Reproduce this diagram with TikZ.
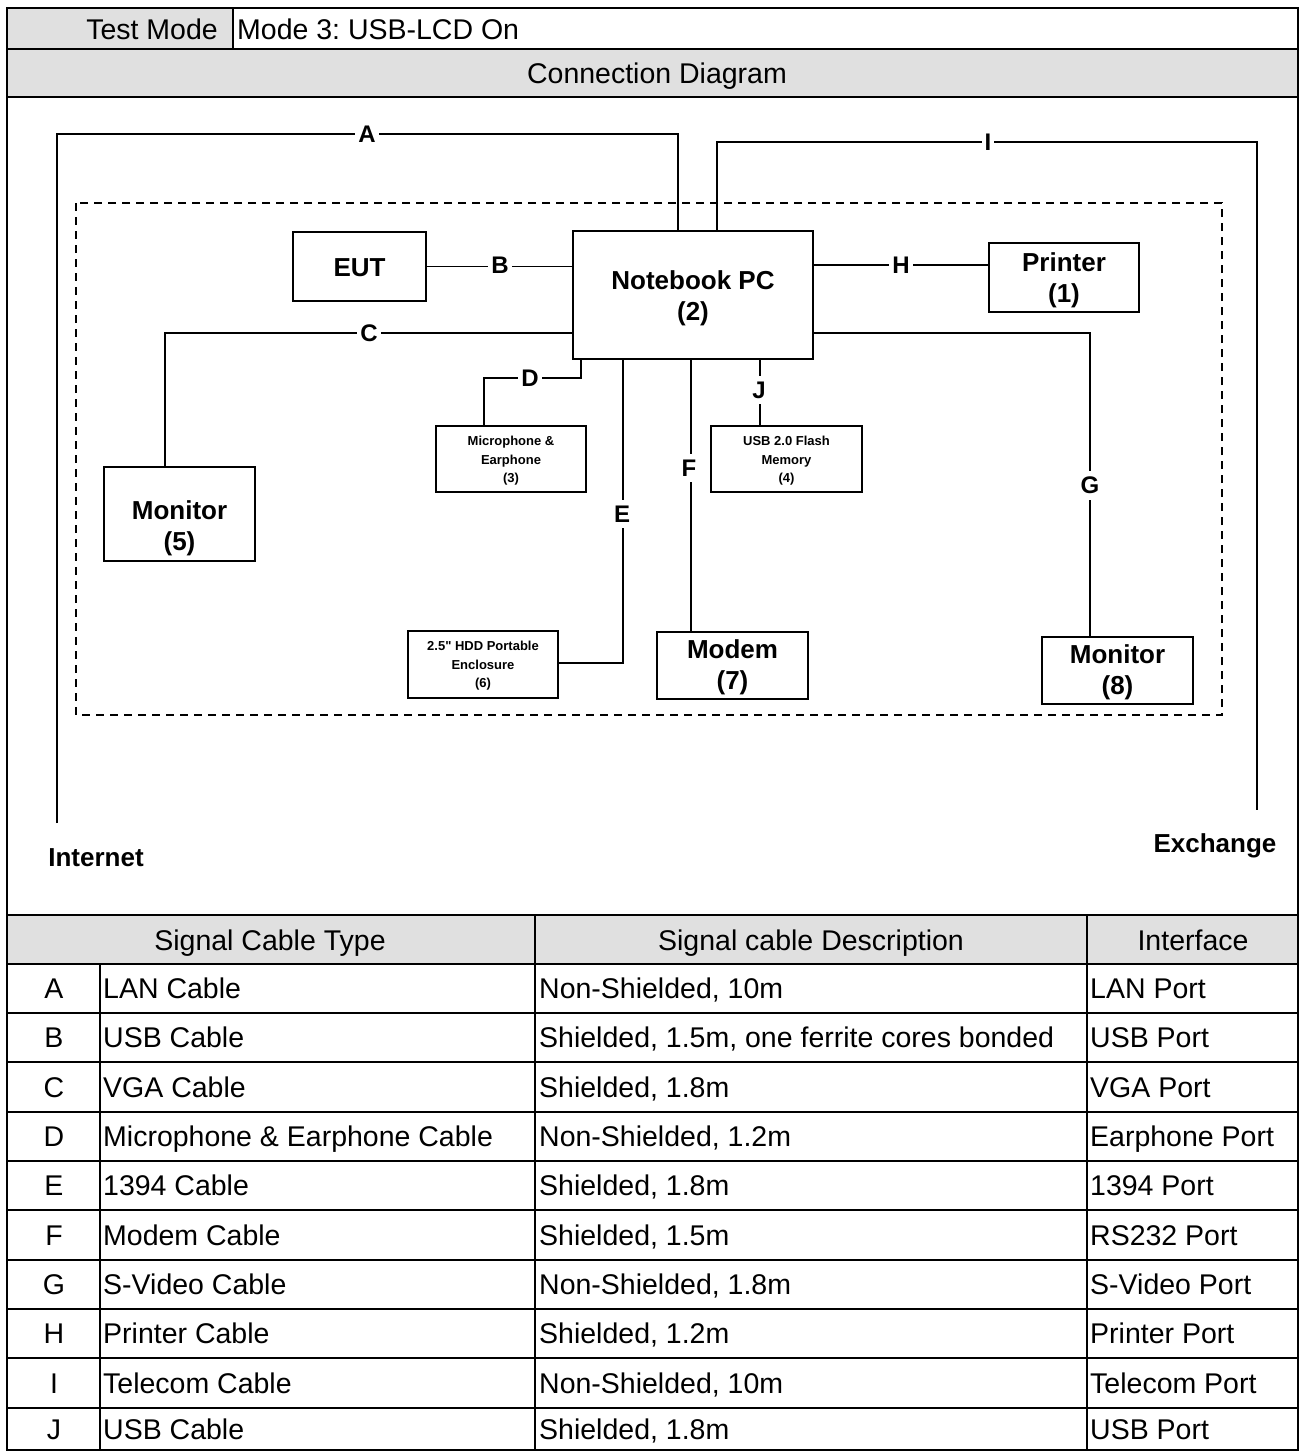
\documentclass[tikz,border=0pt]{standalone}
\usepackage{fontspec}
\setmainfont{Liberation Sans}
\newfontfamily\rawfont{Liberation Sans}
\frenchspacing
\begin{document}
\begin{tikzpicture}[x=1pt,y=-1pt,
  box/.style={draw, line width=2.6pt, fill=white, inner sep=0pt},
  btext/.style={align=center, inner sep=0pt, font=\bfseries\fontsize{26}{31}\selectfont},
  stext/.style={align=center, inner sep=0pt, font=\bfseries\fontsize{13}{18.5}\selectfont},
  cable/.style={line width=1.3pt},
  lab/.style={fill=white, inner sep=3pt, font=\bfseries\fontsize{24}{24}\selectfont},
  far/.style={inner sep=0pt, font=\bfseries\fontsize{26}{26}\selectfont},
  cell/.style={font=\fontsize{28.5}{30}\selectfont, inner sep=0pt, anchor=base west},
  ccell/.style={font=\fontsize{28.5}{30}\selectfont, inner sep=0pt, anchor=base},
  gridline/.style={line width=1.5pt},
  hdr/.style={fill=black!12}
]
\useasboundingbox (0,0) rectangle (1305,1452);
\fill[white] (0,0) rectangle (1305,1452);

% ---------- header rows ----------
\fill[hdr] (7,8) rectangle (233,49);
\fill[hdr] (7,49) rectangle (1298,97);
\fill[hdr] (7,915) rectangle (1298,964);
\node[ccell] (tm) at (152,39) {Test Mode};
\node[cell] (mode) at (237,39) {Mode 3: USB-LCD On};
\node[ccell] (cd) at (657,83) {Connection Diagram};

% ---------- diagram ----------
\draw[line width=1.2pt, dash pattern=on 8pt off 6pt] (76,203) rectangle (1222,715);

\node[box, minimum width=133pt, minimum height=69pt] (eut) at (359.5,266.5) {};
\node[box, minimum width=240pt, minimum height=128pt] (nb) at (693,295) {};
\node[box, minimum width=150pt, minimum height=69pt] (prn) at (1064,277.5) {};
\node[box, minimum width=150pt, minimum height=66pt] (mic) at (511,459) {};
\node[box, minimum width=151pt, minimum height=66pt] (usb) at (786.5,459) {};
\node[box, minimum width=151pt, minimum height=94pt] (mon5) at (179.5,514) {};
\node[box, minimum width=150pt, minimum height=67pt] (hdd) at (483,664.5) {};
\node[box, minimum width=151pt, minimum height=67pt] (modem) at (732.5,665.5) {};
\node[box, minimum width=151pt, minimum height=67pt] (mon8) at (1117.5,670.5) {};

\node[btext] (teut) at ([yshift=-1pt]eut.center) {EUT};
\node[btext] (tnb) at ([yshift=-3.5pt]nb.center) {Notebook PC\\(2)};
\node[btext] (tprn) at ([yshift=-3pt]prn.center) {Printer\\(1)};
\node[stext] (tmic) at ([yshift=-2pt]mic.center) {Microphone \&\\Earphone\\(3)};
\node[stext] (tusb) at ([yshift=-2pt]usb.center) {USB 2.0 Flash\\Memory\\(4)};
\node[btext] (tmon5) at ([yshift=-14pt]mon5.center) {Monitor\\(5)};
\node[stext] (thdd) at ([yshift=-1.5pt]hdd.center) {{\rawfont\bfseries 2.5"} HDD Portable\\Enclosure\\(6)};
\node[btext] (tmodem) at ([yshift=-2pt]modem.center) {Modem\\(7)};
\node[btext] (tmon8) at ([yshift=-2pt]mon8.center) {Monitor\\(8)};

\coordinate (inetend) at (57,823);
\coordinate (exchend) at (1257,810);

\draw[cable] (inetend) -- (57,134) -- (678,134) -- (678,0 |- nb.north);
\draw[cable] (717,0 |- nb.north) -- (717,142) -- (1257,142) -- (exchend);
\draw[cable] (eut.east) -- (nb.west |- eut.east);
\draw[cable] (nb.east |- 0,265) -- (prn.west |- 0,265);
\draw[cable] (nb.west |- 0,333) -- (165,333) -- (mon5.north -| 165,0);
\draw[cable] (nb.east |- 0,333) -- (1090,333) -- (mon8.north -| 1090,0);
\draw[cable] (581,0 |- nb.south) -- (581,378) -- (484,378) -- (mic.north -| 484,0);
\draw[cable] (760,0 |- nb.south) -- (usb.north -| 760,0);
\draw[cable] (623,0 |- nb.south) -- (623,663) -- (hdd.east |- 0,663);
\draw[cable] (691,0 |- nb.south) -- (modem.north -| 691,0);

\node[lab] (la) at (367,134) {A};
\node[lab] (li) at (988,142) {I};
\node[lab] (lb) at (500,265) {B};
\node[lab] (lh) at (901,265) {H};
\node[lab] (lc) at (369,333) {C};
\node[lab] (ld) at (530,378) {D};
\node[lab, inner ysep=6pt] (lj) at (759,390) {J};
\node[lab, inner ysep=6pt] (le) at (622,514) {E};
\node[lab, inner ysep=6pt] (lf) at (689,468) {F};
\node[lab, inner ysep=6pt] (lg) at (1090,485) {G};

\node[far] (inet) at (96,858) {Internet};
\node[far] (exch) at (1215,846) {Exchange};

% ---------- table ----------
\node[ccell] (h1) at (270,950) {Signal Cable Type};
\node[ccell] (h2) at (811,950) {Signal cable Description};
\node[ccell] (h3) at (1193,950) {Interface};

\foreach \yc/\l/\t/\d/\p [count=\i] in {
  988.5/A/LAN Cable/{Non-Shielded, 10m}/LAN Port,
  1037.5/B/USB Cable/{Shielded, 1.5m, one ferrite cores bonded}/USB Port,
  1087/C/VGA Cable/{Shielded, 1.8m}/VGA Port,
  1136.5/D/Microphone \& Earphone Cable/{Non-Shielded, 1.2m}/Earphone Port,
  1185.5/E/1394 Cable/{Shielded, 1.8m}/1394 Port,
  1235/F/Modem Cable/{Shielded, 1.5m}/RS232 Port,
  1284.5/G/S-Video Cable/{Non-Shielded, 1.8m}/S-Video Port,
  1333.5/H/Printer Cable/{Shielded, 1.2m}/Printer Port,
  1383/I/Telecom Cable/{Non-Shielded, 10m}/Telecom Port,
  1429/J/USB Cable/{Shielded, 1.8m}/USB Port} {
  \node[ccell] (r\i a) at (54,\yc+10) {\l};
  \node[cell] (r\i b) at (103,\yc+10) {\t};
  \node[cell] (r\i c) at (539,\yc+10) {\d};
  \node[cell] (r\i d) at (1090,\yc+10) {\p};
}

% grid lines
\draw[gridline] (7,49) -- (1298,49);
\draw[gridline] (7,97) -- (1298,97);
\draw[gridline] (7,915) -- (1298,915);
\draw[gridline] (233,8) -- (233,49);
\foreach \yy in {964,1013,1062,1112,1161,1210,1260,1309,1358,1408}
  \draw[gridline] (7,\yy) -- (1298,\yy);
\draw[gridline] (100,964) -- (100,1450);
\draw[gridline] (535,915) -- (535,1450);
\draw[gridline] (1087,915) -- (1087,1450);
\draw[line width=2pt] (7,8) rectangle (1298,1450);
\end{tikzpicture}
\end{document}
